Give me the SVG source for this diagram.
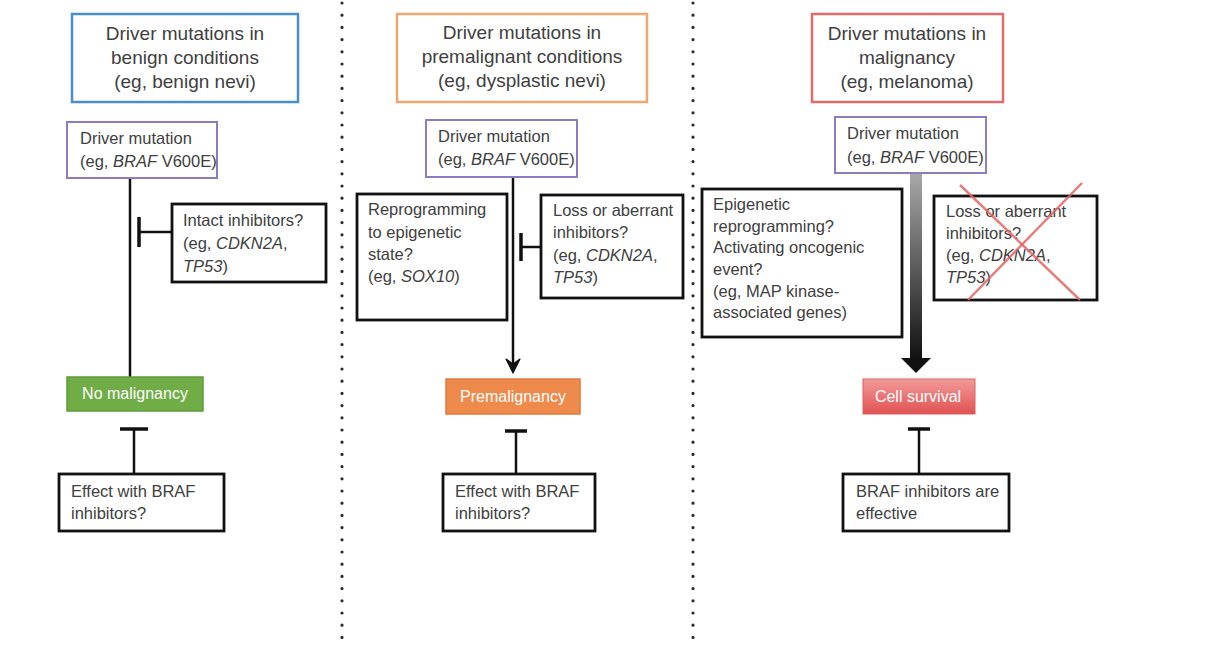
<svg xmlns="http://www.w3.org/2000/svg" width="1230" height="664" viewBox="0 0 1230 664">
<defs>
<style>
.t{font-family:"Liberation Sans",Arial,sans-serif;fill:#404040}
.title{font-size:19px;text-anchor:middle}
.b{font-size:16.5px}
.w{font-size:16px;text-anchor:middle;fill:#ffffff}
.i{font-style:italic}
.box{fill:#fff;stroke:#111;stroke-width:2.8}
.drv{fill:#fff;stroke:#8e7cc3;stroke-width:2}
.ln{stroke:#111;stroke-width:2.5;fill:none}
.bar{stroke:#111;stroke-width:3.5;fill:none}
.dots{stroke:#2a2a2a;stroke-width:3.2;stroke-linecap:round;stroke-dasharray:0 12.2;fill:none}
.cross{stroke:#e06666;stroke-width:2.5;stroke-opacity:0.85}
</style>
<linearGradient id="gBar" x1="0" y1="0" x2="0" y2="1">
<stop offset="0" stop-color="#a8a8a8"/>
<stop offset="1" stop-color="#111"/>
</linearGradient>
<linearGradient id="gCell" x1="0" y1="0" x2="0" y2="1">
<stop offset="0" stop-color="#f29a9a"/>
<stop offset="1" stop-color="#e05252"/>
</linearGradient>
</defs>
<rect width="1230" height="664" fill="#fff"/>

<g id="separators">
<line class="dots" x1="342" y1="3" x2="342" y2="640"/>
<line class="dots" x1="693" y1="3" x2="693" y2="640"/>
</g>

<g id="connectors">
<line class="ln" x1="130" y1="178" x2="130" y2="378"/>
<line class="ln" x1="139" y1="232" x2="172" y2="232"/>
<line class="bar" x1="139" y1="217" x2="139" y2="247"/>
<line class="ln" x1="134" y1="429" x2="134" y2="474"/>
<line class="bar" x1="120" y1="429" x2="148" y2="429"/>

<line class="ln" x1="513" y1="177" x2="513" y2="364"/>
<polygon points="506,359 513,364 520,359 513,373" fill="#111" stroke="#111" stroke-width="1.2" stroke-linejoin="round"/>
<line class="ln" x1="521" y1="247" x2="541" y2="247"/>
<line class="bar" x1="521" y1="233" x2="521" y2="261"/>
<line class="ln" x1="516" y1="431" x2="516" y2="474"/>
<line class="bar" x1="505" y1="431" x2="527" y2="431"/>

<rect x="910" y="173" width="12" height="186" fill="url(#gBar)"/>
<polygon points="901,358 931,358 916,373" fill="#111"/>
<line class="ln" x1="919" y1="429" x2="919" y2="474"/>
<line class="bar" x1="908" y1="429" x2="930" y2="429"/>
</g>

<g id="title1">
<rect x="72" y="14" width="226" height="88" fill="#fff" stroke="#4a8fcc" stroke-width="2.5"/>
<text class="t title" x="185" y="40">Driver mutations in</text>
<text class="t title" x="185" y="64">benign conditions</text>
<text class="t title" x="185" y="88">(eg, benign nevi)</text>
</g>
<g id="driver1">
<rect class="drv" x="67" y="122" width="150" height="56"/>
<text class="t b" x="80" y="144">Driver mutation</text>
<text class="t b" x="80" y="167">(eg, <tspan class="i">BRAF</tspan> V600E)</text>
</g>
<g id="intact1">
<rect class="box" x="172" y="204" width="154" height="78"/>
<text class="t b" x="183" y="226">Intact inhibitors?</text>
<text class="t b" x="183" y="249">(eg, <tspan class="i">CDKN2A</tspan>,</text>
<text class="t b" x="183" y="272"><tspan class="i">TP53</tspan>)</text>
</g>
<g id="outcome1">
<rect x="67" y="377" width="136" height="34" fill="#70ad47" stroke="#5f9a3c" stroke-width="1.5"/>
<text class="t w" x="135" y="399">No malignancy</text>
</g>
<g id="effect1">
<rect class="box" x="59" y="474" width="165" height="57"/>
<text class="t b" x="71" y="497">Effect with BRAF</text>
<text class="t b" x="71" y="519">inhibitors?</text>
</g>

<g id="title2">
<rect x="397" y="14" width="250" height="88" fill="#fff" stroke="#eda772" stroke-width="2.5"/>
<text class="t title" x="522" y="39">Driver mutations in</text>
<text class="t title" x="522" y="63">premalignant conditions</text>
<text class="t title" x="522" y="87">(eg, dysplastic nevi)</text>
</g>
<g id="driver2">
<rect class="drv" x="426" y="120" width="151" height="57"/>
<text class="t b" x="438" y="142">Driver mutation</text>
<text class="t b" x="438" y="165">(eg, <tspan class="i">BRAF</tspan> V600E)</text>
</g>
<g id="reprog2">
<rect class="box" x="357" y="194" width="150" height="126"/>
<text class="t b" x="368" y="215">Reprogramming</text>
<text class="t b" x="368" y="238">to epigenetic</text>
<text class="t b" x="368" y="260">state?</text>
<text class="t b" x="368" y="282">(eg, <tspan class="i">SOX10</tspan>)</text>
</g>
<g id="loss2">
<rect class="box" x="541" y="195" width="142" height="103"/>
<text class="t b" x="553" y="216">Loss or aberrant</text>
<text class="t b" x="553" y="238">inhibitors?</text>
<text class="t b" x="553" y="261">(eg, <tspan class="i">CDKN2A</tspan>,</text>
<text class="t b" x="553" y="283"><tspan class="i">TP53</tspan>)</text>
</g>
<g id="outcome2">
<rect x="446" y="379" width="134" height="35" fill="#ee8a4c" stroke="#e07a3a" stroke-width="1.5"/>
<text class="t w" x="513" y="402">Premalignancy</text>
</g>
<g id="effect2">
<rect class="box" x="443" y="474" width="152" height="57"/>
<text class="t b" x="455" y="497">Effect with BRAF</text>
<text class="t b" x="455" y="519">inhibitors?</text>
</g>

<g id="title3">
<rect x="812" y="14" width="191" height="88" fill="#fff" stroke="#e26b6b" stroke-width="2.5"/>
<text class="t title" x="907" y="40">Driver mutations in</text>
<text class="t title" x="907" y="64">malignancy</text>
<text class="t title" x="907" y="88">(eg, melanoma)</text>
</g>
<g id="driver3">
<rect class="drv" x="835" y="117" width="151" height="56"/>
<text class="t b" x="847" y="139">Driver mutation</text>
<text class="t b" x="847" y="163">(eg, <tspan class="i">BRAF</tspan> V600E)</text>
</g>
<g id="epi3">
<rect class="box" x="702" y="189" width="200" height="148"/>
<text class="t b" x="713" y="210">Epigenetic</text>
<text class="t b" x="713" y="232">reprogramming?</text>
<text class="t b" x="713" y="253">Activating oncogenic</text>
<text class="t b" x="713" y="275">event?</text>
<text class="t b" x="713" y="297">(eg, MAP kinase-</text>
<text class="t b" x="713" y="318">associated genes)</text>
</g>
<g id="loss3">
<rect class="box" x="934" y="196" width="163" height="104"/>
<text class="t b" x="946" y="217">Loss or aberrant</text>
<text class="t b" x="946" y="239">inhibitors?</text>
<text class="t b" x="946" y="261">(eg, <tspan class="i">CDKN2A</tspan>,</text>
<text class="t b" x="946" y="283"><tspan class="i">TP53</tspan>)</text>
<line class="cross" x1="960" y1="185" x2="1080" y2="300"/>
<line class="cross" x1="1082" y1="183" x2="968" y2="300"/>
</g>
<g id="outcome3">
<rect x="863" y="379" width="112" height="35" fill="url(#gCell)" stroke="#e06060" stroke-width="1"/>
<text class="t w" x="918" y="402">Cell survival</text>
</g>
<g id="effect3">
<rect class="box" x="843" y="474" width="166" height="57"/>
<text class="t b" x="856" y="497">BRAF inhibitors are</text>
<text class="t b" x="856" y="519">effective</text>
</g>
</svg>
